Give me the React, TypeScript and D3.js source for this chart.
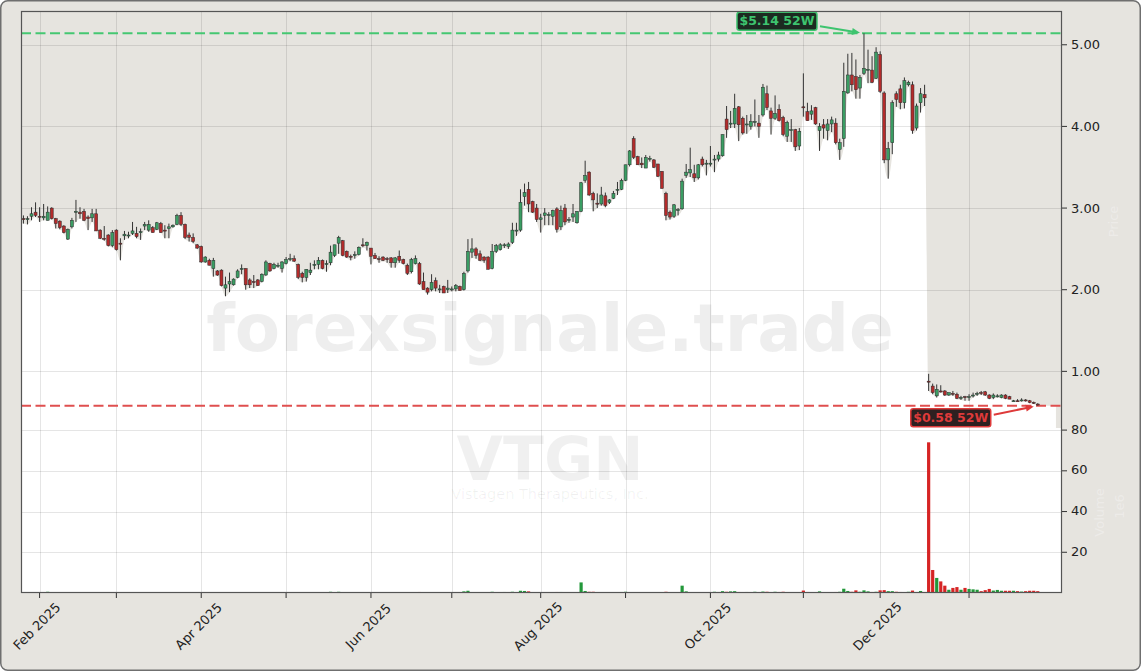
import * as d3 from "d3";

// trading calendar (NYSE) for the candles
const START = "2025-01-28";
const END = "2026-01-28";
const holidays = ["2025-02-17", "2025-04-18", "2025-05-26", "2025-06-19", "2025-07-04", "2025-09-01", "2025-11-27", "2025-12-25", "2026-01-01", "2026-01-19"];

// OHLC in USD, volume in millions
const opens = [
  2.87, 2.86, 2.9, 2.95, 2.9, 2.88, 2.85, 3.0, 2.87, 2.84,
  2.78, 2.62, 2.77, 2.95, 2.95, 2.96, 2.89, 2.88, 2.93, 2.73,
  2.63, 2.67, 2.54, 2.73, 2.57, 2.66, 2.66, 2.69, 2.69, 2.7,
  2.78, 2.73, 2.76, 2.74, 2.81, 2.73, 2.75, 2.77, 2.8, 2.91,
  2.8, 2.67, 2.64, 2.55, 2.53, 2.34, 2.36, 2.26, 2.23, 2.24,
  2.02, 2.07, 2.06, 2.15, 2.25, 2.26, 2.12, 2.1, 2.12, 2.1,
  2.18, 2.32, 2.26, 2.29, 2.26, 2.32, 2.38, 2.38, 2.31, 2.2,
  2.15, 2.21, 2.3, 2.31, 2.36, 2.31, 2.33, 2.42, 2.57, 2.6,
  2.47, 2.41, 2.42, 2.43, 2.55, 2.54, 2.51, 2.42, 2.38, 2.4,
  2.38, 2.39, 2.33, 2.41, 2.37, 2.3, 2.22, 2.32, 2.32, 2.1,
  2.02, 2.0, 2.11, 2.0, 2.04, 2.0, 2.0, 2.01, 2.04, 2.0,
  2.23, 2.46, 2.5, 2.44, 2.4, 2.4, 2.26, 2.47, 2.49, 2.55,
  2.53, 2.58, 2.72, 2.73, 3.14, 3.23, 3.08, 3.0, 2.86, 2.91,
  2.92, 2.9, 2.99, 2.77, 3.0, 2.86, 2.89, 2.82, 2.96, 3.34,
  3.44, 3.18, 3.06, 3.05, 3.15, 3.07, 3.12, 3.22, 3.23, 3.34,
  3.53, 3.85, 3.63, 3.55, 3.49, 3.61, 3.59, 3.54, 3.45, 3.18,
  2.95, 2.9, 2.98, 2.99, 3.4, 3.43, 3.42, 3.37, 3.6, 3.55,
  3.55, 3.59, 3.6, 3.64, 4.09, 4.03, 4.03, 4.24, 4.1, 4.02,
  4.0, 4.06, 4.04, 4.14, 4.4, 4.19, 4.1, 4.21, 4.11, 3.88,
  3.96, 3.96, 3.76, 4.24, 4.18, 4.15, 4.23, 3.95, 4.02, 3.95,
  4.03, 4.04, 3.72, 3.85, 4.41, 4.63, 4.61, 4.47, 4.65, 4.69,
  4.69, 4.59, 4.88, 4.41, 3.59, 3.8, 4.4, 4.46, 4.29, 4.51,
  4.51, 3.98, 4.29, 4.39, 0.88, 0.82, 0.7, 0.76, 0.76, 0.71,
  0.73, 0.72, 0.67, 0.69, 0.68, 0.7, 0.72, 0.74, 0.75, 0.71,
  0.68, 0.7, 0.68, 0.71, 0.69, 0.64, 0.64, 0.64, 0.65, 0.64,
  0.62, 0.6,
];
const highs = [
  2.91, 2.9, 3.01, 3.07, 3.01, 3.05, 3.02, 3.01, 2.88, 2.85,
  2.79, 2.75, 2.88, 3.1, 3.01, 2.99, 2.91, 2.99, 2.99, 2.74,
  2.78, 2.68, 2.73, 2.74, 2.63, 2.72, 2.71, 2.83, 2.77, 2.75,
  2.83, 2.85, 2.78, 2.83, 2.83, 2.79, 2.81, 2.8, 2.93, 2.95,
  2.81, 2.7, 2.69, 2.56, 2.54, 2.41, 2.38, 2.39, 2.24, 2.25,
  2.16, 2.21, 2.14, 2.25, 2.31, 2.26, 2.14, 2.18, 2.13, 2.2,
  2.36, 2.33, 2.33, 2.33, 2.35, 2.4, 2.44, 2.42, 2.32, 2.22,
  2.25, 2.33, 2.36, 2.4, 2.37, 2.36, 2.54, 2.55, 2.66, 2.61,
  2.48, 2.43, 2.47, 2.53, 2.63, 2.59, 2.51, 2.45, 2.41, 2.41,
  2.4, 2.4, 2.4, 2.48, 2.38, 2.32, 2.39, 2.42, 2.34, 2.21,
  2.03, 2.19, 2.15, 2.06, 2.05, 2.12, 2.04, 2.07, 2.05, 2.22,
  2.62, 2.63, 2.52, 2.48, 2.41, 2.41, 2.56, 2.56, 2.57, 2.57,
  2.58, 2.82, 2.82, 3.23, 3.3, 3.32, 3.09, 3.05, 2.93, 3.0,
  2.95, 2.98, 3.01, 3.03, 3.05, 2.89, 3.05, 2.96, 3.32, 3.58,
  3.45, 3.2, 3.18, 3.26, 3.19, 3.11, 3.21, 3.32, 3.36, 3.53,
  3.71, 3.88, 3.64, 3.62, 3.65, 3.64, 3.6, 3.54, 3.45, 3.2,
  2.97, 3.05, 3.0, 3.36, 3.54, 3.74, 3.53, 3.54, 3.63, 3.59,
  3.76, 3.65, 3.69, 3.9, 4.25, 4.19, 4.4, 4.25, 4.12, 4.14,
  4.15, 4.33, 4.14, 4.52, 4.5, 4.23, 4.38, 4.27, 4.13, 4.07,
  4.09, 3.97, 3.98, 4.65, 4.29, 4.26, 4.24, 4.04, 4.09, 4.09,
  4.12, 4.1, 3.85, 4.78, 4.89, 4.9, 4.82, 4.63, 5.14, 4.94,
  4.86, 4.97, 4.92, 4.43, 3.81, 4.32, 4.43, 4.51, 4.6, 4.56,
  4.55, 4.28, 4.47, 4.51, 0.97, 0.85, 0.84, 0.83, 0.77, 0.74,
  0.76, 0.74, 0.7, 0.7, 0.72, 0.74, 0.75, 0.76, 0.76, 0.72,
  0.73, 0.72, 0.72, 0.72, 0.7, 0.65, 0.66, 0.67, 0.66, 0.65,
  0.63, 0.61,
];
const lows = [
  2.81, 2.8, 2.85, 2.89, 2.83, 2.85, 2.85, 2.86, 2.75, 2.74,
  2.69, 2.61, 2.75, 2.83, 2.87, 2.84, 2.73, 2.83, 2.72, 2.62,
  2.6, 2.53, 2.52, 2.48, 2.36, 2.61, 2.63, 2.67, 2.63, 2.61,
  2.73, 2.71, 2.7, 2.73, 2.7, 2.63, 2.63, 2.76, 2.79, 2.78,
  2.62, 2.59, 2.57, 2.5, 2.33, 2.33, 2.3, 2.16, 2.17, 2.04,
  1.92, 1.97, 2.05, 2.14, 2.19, 2.0, 2.02, 2.02, 2.05, 2.09,
  2.17, 2.22, 2.25, 2.27, 2.21, 2.31, 2.35, 2.34, 2.13, 2.09,
  2.1, 2.18, 2.25, 2.25, 2.25, 2.22, 2.3, 2.4, 2.44, 2.41,
  2.39, 2.36, 2.38, 2.42, 2.52, 2.48, 2.31, 2.38, 2.33, 2.35,
  2.33, 2.27, 2.27, 2.33, 2.31, 2.18, 2.2, 2.31, 2.06, 2.0,
  1.94, 1.98, 1.98, 1.96, 1.96, 1.96, 1.98, 1.98, 1.99, 1.99,
  2.21, 2.39, 2.38, 2.35, 2.33, 2.25, 2.25, 2.45, 2.48, 2.51,
  2.5, 2.56, 2.66, 2.71, 3.03, 2.95, 2.94, 2.83, 2.7, 2.79,
  2.79, 2.79, 2.7, 2.73, 2.79, 2.82, 2.83, 2.81, 2.95, 3.31,
  3.15, 2.96, 3.0, 3.03, 3.01, 3.05, 3.11, 3.16, 3.22, 3.33,
  3.51, 3.6, 3.53, 3.49, 3.49, 3.57, 3.49, 3.38, 3.24, 2.85,
  2.86, 2.88, 2.91, 2.98, 3.37, 3.38, 3.32, 3.35, 3.51, 3.4,
  3.51, 3.44, 3.57, 3.63, 3.86, 3.98, 3.98, 3.82, 3.9, 3.91,
  3.96, 4.0, 3.86, 4.12, 4.2, 3.9, 4.08, 4.06, 3.88, 3.81,
  3.81, 3.7, 3.71, 4.12, 4.07, 4.08, 4.02, 3.7, 3.85, 3.83,
  3.93, 3.78, 3.59, 3.75, 4.4, 4.43, 4.34, 4.34, 4.63, 4.53,
  4.53, 4.58, 4.41, 3.55, 3.36, 3.66, 4.24, 4.21, 4.22, 4.49,
  3.91, 3.95, 4.17, 4.25, 0.76, 0.72, 0.68, 0.74, 0.7, 0.7,
  0.7, 0.66, 0.65, 0.64, 0.64, 0.68, 0.7, 0.71, 0.7, 0.66,
  0.66, 0.68, 0.67, 0.66, 0.66, 0.63, 0.63, 0.63, 0.63, 0.61,
  0.6, 0.58,
];
const closes = [
  2.86, 2.87, 2.93, 2.91, 2.89, 2.9, 2.95, 2.87, 2.81, 2.76,
  2.7, 2.74, 2.85, 2.96, 2.93, 2.85, 2.87, 2.93, 2.72, 2.63,
  2.62, 2.54, 2.7, 2.49, 2.56, 2.68, 2.67, 2.72, 2.65, 2.71,
  2.8, 2.8, 2.7, 2.82, 2.7, 2.72, 2.77, 2.79, 2.91, 2.8,
  2.64, 2.64, 2.59, 2.51, 2.34, 2.4, 2.3, 2.36, 2.18, 2.05,
  2.06, 2.1, 2.13, 2.23, 2.26, 2.06, 2.06, 2.09, 2.05, 2.19,
  2.34, 2.23, 2.31, 2.3, 2.34, 2.37, 2.38, 2.35, 2.15, 2.15,
  2.25, 2.24, 2.31, 2.36, 2.26, 2.32, 2.46, 2.55, 2.64, 2.42,
  2.4, 2.4, 2.43, 2.52, 2.54, 2.58, 2.41, 2.38, 2.37, 2.36,
  2.37, 2.33, 2.39, 2.36, 2.32, 2.2, 2.37, 2.38, 2.07, 2.0,
  1.97, 2.09, 2.02, 2.01, 1.96, 2.02, 2.01, 2.05, 1.99, 2.2,
  2.47, 2.5, 2.42, 2.36, 2.36, 2.25, 2.47, 2.54, 2.55, 2.55,
  2.56, 2.73, 2.73, 3.07, 3.19, 3.05, 2.95, 2.86, 2.88, 2.94,
  2.92, 2.97, 2.74, 2.97, 2.83, 2.86, 2.93, 2.96, 3.31, 3.4,
  3.16, 3.1, 3.05, 3.16, 3.03, 3.1, 3.18, 3.23, 3.34, 3.53,
  3.7, 3.62, 3.53, 3.53, 3.62, 3.61, 3.5, 3.39, 3.24, 2.91,
  2.89, 3.04, 2.98, 3.33, 3.44, 3.47, 3.37, 3.53, 3.53, 3.55,
  3.55, 3.6, 3.65, 3.9, 3.96, 4.04, 4.22, 4.02, 3.92, 4.03,
  4.06, 4.06, 4.0, 4.48, 4.23, 4.1, 4.16, 4.07, 3.9, 4.05,
  3.96, 3.75, 3.94, 4.23, 4.07, 4.19, 4.03, 4.0, 3.98, 4.03,
  4.08, 3.8, 3.8, 4.43, 4.63, 4.51, 4.45, 4.6, 4.71, 4.7,
  4.54, 4.91, 4.43, 3.59, 3.73, 4.29, 4.33, 4.29, 4.56, 4.54,
  3.95, 4.25, 4.4, 4.35, 0.87, 0.74, 0.78, 0.75, 0.71, 0.74,
  0.72, 0.67, 0.68, 0.68, 0.69, 0.71, 0.73, 0.73, 0.71, 0.67,
  0.71, 0.7, 0.71, 0.67, 0.66, 0.64, 0.63, 0.65, 0.64, 0.62,
  0.61, 0.59,
];
const volumes = [
  0.15, 0.12, 0.18, 0.15, 0.2, 0.3, 0.6, 0.2, 0.15, 0.12,
  0.15, 0.2, 0.15, 0.25, 0.12, 0.1, 0.12, 0.15, 0.2, 0.15,
  0.12, 0.15, 0.2, 0.25, 0.2, 0.12, 0.1, 0.12, 0.1, 0.1,
  0.12, 0.15, 0.1, 0.12, 0.15, 0.1, 0.12, 0.1, 0.2, 0.15,
  0.2, 0.12, 0.15, 0.15, 0.25, 0.15, 0.12, 0.2, 0.15, 0.25,
  0.3, 0.2, 0.15, 0.15, 0.2, 0.25, 0.15, 0.12, 0.12, 0.15,
  0.25, 0.15, 0.12, 0.1, 0.15, 0.12, 0.15, 0.12, 0.25, 0.2,
  0.15, 0.12, 0.12, 0.2, 0.15, 0.12, 0.6, 0.3, 0.6, 0.3,
  0.2, 0.12, 0.1, 0.15, 0.2, 0.15, 0.25, 0.12, 0.1, 0.1,
  0.1, 0.12, 0.1, 0.15, 0.1, 0.2, 0.2, 0.15, 0.5, 0.3,
  0.25, 0.2, 0.15, 0.12, 0.15, 0.15, 0.1, 0.12, 0.15, 0.8,
  1.1, 0.4, 0.3, 0.2, 0.2, 0.3, 0.6, 0.3, 0.2, 0.5,
  0.2, 0.6, 0.3, 1.1, 1.0, 0.8, 0.4, 0.3, 0.3, 0.2,
  0.2, 0.2, 0.5, 0.5, 0.3, 0.15, 0.2, 0.3, 5.2, 1.0,
  0.6, 0.6, 0.3, 0.2, 0.2, 0.15, 0.2, 0.3, 0.5, 0.6,
  0.4, 0.4, 0.2, 0.15, 0.2, 0.12, 0.2, 0.3, 0.3, 0.6,
  0.3, 0.3, 0.4, 3.6, 0.8, 0.4, 0.3, 0.3, 0.2, 0.2,
  0.3, 0.6, 0.5, 0.9, 0.6, 0.8, 0.9, 0.5, 0.4, 0.5,
  0.4, 0.6, 0.4, 0.7, 0.6, 0.4, 0.6, 0.5, 0.6, 0.4,
  0.3, 0.4, 0.4, 1.2, 0.5, 0.3, 0.4, 0.8, 0.3, 0.3,
  0.3, 0.5, 0.6, 2.1, 1.0, 0.6, 1.3, 0.6, 1.3, 0.8,
  0.5, 0.6, 1.3, 1.4, 0.9, 0.9, 0.6, 0.5, 0.4, 0.6,
  1.2, 0.5, 1.0, 0.5, 74, 11.3, 7.4, 5.7, 3.6, 1.6,
  2.5, 2.9, 1.6, 2.5, 2.0, 1.8, 1.6, 0.9, 1.4, 2.0,
  1.2, 1.5, 1.1, 1.1, 1.1, 1.1, 0.9, 0.7, 0.9, 1.1,
  1.1, 0.9,
];

const priceTicks = [1, 2, 3, 4, 5];
const volumeTicks = [20, 40, 60, 80];
const labelledMonths = ["Feb 2025", "Apr 2025", "Jun 2025", "Aug 2025", "Oct 2025", "Dec 2025"];
const ticker = "VTGN";
const company = "Vistagen Therapeutics, Inc.";
const watermark = "forexsignale.trade";

const W = 1141;
const H = 671;
const L = 21;
const R = 1062;
const T = 11;
const MID = 428;
const B = 593;

const BG = "#e6e4df";
const UP = "#3a9d63";
const DOWN = "#b32b2b";
const VUP = "#23983a";
const VDOWN = "#d62424";

export default function App() {
  const fmt = d3.timeFormat("%Y-%m-%d");
  const parse = d3.timeParse("%Y-%m-%d");
  const dates = d3.timeDay
    .range(parse(START)!, d3.timeDay.offset(parse(END)!, 1))
    .filter((d) => d.getDay() !== 0 && d.getDay() !== 6 && !holidays.includes(fmt(d)));
  const N = dates.length;

  const monthTicks = dates
    .map((d, i) => ({ d, i }))
    .filter(({ d, i }) => i > 0 && d.getMonth() !== dates[i - 1].getMonth());
  const monthFmt = d3.timeFormat("%b %Y");

  const x = d3.scaleLinear().domain([-0.6, N + 5]).range([L, R]);

  const lo = d3.min(lows)!;
  const hi = d3.max(highs)!;
  const hiIdx = highs.indexOf(hi);
  const loIdx = lows.indexOf(lo);
  const pad = (hi - lo) * 0.06;
  const y = d3.scaleLinear().domain([lo - pad, hi + pad]).range([MID, T]);
  const yv = d3.scaleLinear().domain([0, d3.max(volumes)! * 1.095]).range([B, MID]);

  const fillPts: [number, number][] = [[-0.6, lows[0]], ...lows.map((l, i) => [i, l] as [number, number]), [N + 3.5, lows[N - 1]]];
  const area = d3
    .area<[number, number]>()
    .x((d) => x(d[0]))
    .y0(MID)
    .y1((d) => y(d[1]))
    .curve(d3.curveMonotoneX);

  const bodyW = 3;
  const volW = 3.2;

  // annotation helper: box to the left of the target, arrow pointing to it
  const annot = (idx: number, val: number, dy: number, color: string, boxFill: string, label: string) => {
    const tx = x(idx);
    const ty = y(val);
    const bx = tx - 87;
    const by = ty + dy;
    const sx = bx + 43;
    const sy = by + (dy < 0 ? 5 : -3);
    const ang = Math.atan2(ty - sy, tx - sx);
    const ex = tx - Math.cos(ang) * 4;
    const ey = ty - Math.sin(ang) * 4;
    const hl = 8;
    const hw = 3.5;
    const p1 = [ex - Math.cos(ang) * hl - Math.sin(ang) * hw, ey - Math.sin(ang) * hl + Math.cos(ang) * hw];
    const p2 = [ex - Math.cos(ang) * hl + Math.sin(ang) * hw, ey - Math.sin(ang) * hl - Math.cos(ang) * hw];
    return (
      <g>
        <line x1={sx} y1={sy} x2={ex - Math.cos(ang) * 5} y2={ey - Math.sin(ang) * 5} stroke={color} strokeWidth={2} />
        <polygon points={`${ex},${ey} ${p1[0]},${p1[1]} ${p2[0]},${p2[1]}`} fill={color} />
        <rect x={bx - 40} y={by - 9} width={80} height={18} rx={2.5} fill={boxFill} stroke={color} strokeWidth={1.5} />
        <text x={bx} y={by + 0.5} textAnchor="middle" dominantBaseline="middle" fontFamily="DejaVu Sans" fontWeight="bold" fontSize={12.5} fill={color}>
          {label}
        </text>
      </g>
    );
  };

  return (
    <div style={{ position: "absolute", left: 0, top: 0 }}>
      <svg width={W} height={H} viewBox={`0 0 ${W} ${H}`} style={{ display: "block" }}>
        <defs>
          <clipPath id="pricePanel">
            <rect x={L} y={T} width={R - L} height={MID - T} />
          </clipPath>
        </defs>
        <rect x={0.75} y={0.75} width={W - 1.5} height={H - 1.5} rx={7} fill={BG} stroke="#6f6f6f" strokeWidth={1.5} />

        {/* panels */}
        <rect x={L} y={T} width={R - L} height={MID - T} fill={BG} />
        <rect x={L} y={MID} width={R - L} height={B - MID} fill="#ffffff" />
        <path d={area(fillPts) ?? ""} fill="#ffffff" clipPath="url(#pricePanel)" />

        {/* grid */}
        <g stroke="#000" strokeOpacity={0.1} strokeWidth={1}>
          {monthTicks.map(({ i }) => (
            <line key={`vg${i}`} x1={Math.round(x(i)) + 0.5} x2={Math.round(x(i)) + 0.5} y1={T} y2={B} />
          ))}
          {priceTicks.map((p) => (
            <line key={`pg${p}`} x1={L} x2={R} y1={Math.round(y(p)) + 0.5} y2={Math.round(y(p)) + 0.5} />
          ))}
          {volumeTicks.map((v) => (
            <line key={`vgv${v}`} x1={L} x2={R} y1={Math.round(yv(v)) + 0.5} y2={Math.round(yv(v)) + 0.5} />
          ))}
        </g>

        {/* watermarks */}
        <text x={550} y={351} textAnchor="middle" fontFamily="DejaVu Sans" fontWeight="bold" fontSize={66} fill="#000" fillOpacity={0.065}>
          {watermark}
        </text>
        <text x={550} y={480} textAnchor="middle" fontFamily="DejaVu Sans" fontWeight="bold" fontSize={60} fill="#000" fillOpacity={0.06}>
          {ticker}
        </text>
        <text x={550} y={499} textAnchor="middle" fontFamily="DejaVu Sans" fontSize={14.5} fill="#000" fillOpacity={0.06}>
          {company}
        </text>

        {/* 52W lines */}
        <line x1={L} x2={R} y1={y(hi)} y2={y(hi)} stroke="#45c772" strokeWidth={2} strokeDasharray="10 4.5" />
        <line x1={L} x2={R} y1={y(lo)} y2={y(lo)} stroke="#df4f4f" strokeWidth={2} strokeDasharray="10 4.5" />

        {/* candles */}
        <g>
          {dates.map((_, i) => {
            const up = closes[i] >= opens[i];
            const top = y(Math.max(opens[i], closes[i]));
            const bot = y(Math.min(opens[i], closes[i]));
            return (
              <g key={`c${i}`}>
                <line x1={x(i)} x2={x(i)} y1={y(highs[i])} y2={y(lows[i])} stroke="#333" strokeWidth={1} />
                <rect x={x(i) - bodyW / 2} y={top} width={bodyW} height={Math.max(bot - top, 1)} fill={up ? UP : DOWN} stroke="#2b2b2b" strokeWidth={0.5} />
              </g>
            );
          })}
        </g>

        {/* volume */}
        <g>
          {dates.map((_, i) => (
            <rect key={`v${i}`} x={x(i) - volW / 2} y={yv(volumes[i])} width={volW} height={B - yv(volumes[i])} fill={closes[i] >= opens[i] ? VUP : VDOWN} />
          ))}
        </g>

        {/* annotations */}
        {annot(hiIdx, hi, -12, "#3ec46f", "#1c2a21", `$${hi.toFixed(2)} 52W`)}
        {annot(loIdx, lo, 12, "#de3a3a", "#2e2020", `$${lo.toFixed(2)} 52W`)}

        {/* frame */}
        <rect x={L + 0.5} y={T + 0.5} width={R - L - 1} height={B - T - 1} fill="none" stroke="#555" strokeWidth={1.2} />

        {/* right axis */}
        <g fontFamily="DejaVu Sans" fontSize={13} fill="#222">
          {priceTicks.map((p) => (
            <g key={`pt${p}`}>
              <line x1={R} x2={R + 5} y1={y(p)} y2={y(p)} stroke="#333" strokeWidth={1} />
              <text x={R + 9} y={y(p) + 1} dominantBaseline="middle">
                {p.toFixed(2)}
              </text>
            </g>
          ))}
          {volumeTicks.map((v) => (
            <g key={`vt${v}`}>
              <line x1={R} x2={R + 5} y1={yv(v)} y2={yv(v)} stroke="#333" strokeWidth={1} />
              <text x={R + 9} y={yv(v)} dominantBaseline="middle">
                {v}
              </text>
            </g>
          ))}
        </g>
        <g fontFamily="DejaVu Sans" fontSize={13} fill="#fff" fillOpacity={0.3} textAnchor="middle">
          <text transform={`translate(1118,${(T + MID) / 2 + 2}) rotate(-90)`}>Price</text>
          <text transform={`translate(1104,${(MID + B) / 2 + 2}) rotate(-90)`}>Volume</text>
          <text transform={`translate(1124,${(MID + B) / 2 - 4}) rotate(-90)`}>1e6</text>
        </g>

        {/* bottom axis */}
        <g fontFamily="DejaVu Sans" fontSize={13} fill="#222">
          {monthTicks.map(({ d, i }) => {
            const lab = monthFmt(d);
            return (
              <g key={`mt${i}`}>
                <line x1={x(i)} x2={x(i)} y1={B} y2={B + 5} stroke="#333" strokeWidth={1} />
                {labelledMonths.includes(lab) && (
                  <text transform={`translate(${x(i) - 2},${B + 34}) rotate(-45)`} textAnchor="middle" dominantBaseline="middle">
                    {lab}
                  </text>
                )}
              </g>
            );
          })}
        </g>
      </svg>
    </div>
  );
}
